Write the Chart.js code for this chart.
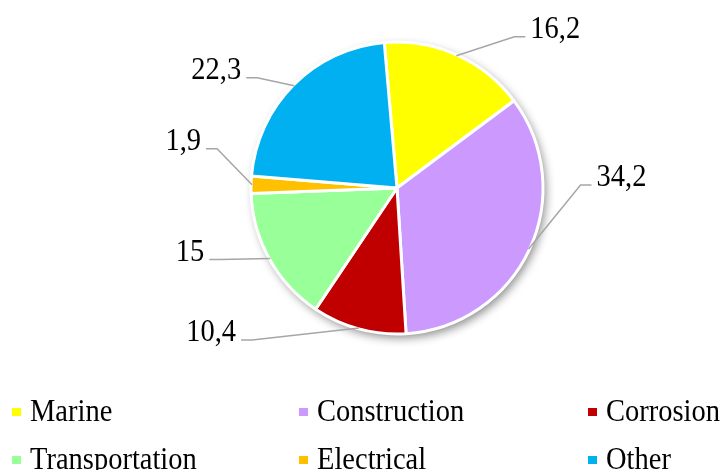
<!DOCTYPE html>
<html><head><meta charset="utf-8">
<script src="https://cdn.jsdelivr.net/npm/chart.js@4/dist/chart.umd.min.js"></script>
<style>
html,body{margin:0;padding:0;background:#fff;width:727px;height:470px;overflow:hidden;}
canvas{display:block;}
</style></head>
<body>
<canvas id="c" width="727" height="470"></canvas>
<script>
// ---- data ----
const categories = ["Marine", "Construction", "Corrosion", "Transportation", "Electrical", "Other"];
const values = [16.2, 34.2, 10.4, 15, 1.9, 22.3];
const valueLabels = ["16,2", "34,2", "10,4", "15", "1,9", "22,3"];

// ---- styling ----
const colors = ["#FFFF00", "#CC99FF", "#C00000", "#99FF99", "#FFC000", "#00B0F0"];
// leader elbow offset from slice mid-edge point (layout only)
const labelOffsets = [[58,-19],[52,-64],[-107,12],[-50,1],[-35,-36],[-37,-8]];
const FONT = '28.5px "Liberation Serif", "Times New Roman", serif';
const STRETCH_Y = 1.1;

function drawText(ctx, text, x, y, align) {
  ctx.save();
  ctx.translate(x, y);
  ctx.scale(1, STRETCH_Y);
  ctx.textAlign = align;
  ctx.textBaseline = 'alphabetic';
  ctx.fillText(text, 0, 0);
  ctx.restore();
}

const shadowPlugin = {
  id: 'shadow',
  beforeDatasetsDraw(chart) {
    const arc = chart.getDatasetMeta(0).data[0];
    if (!arc) return;
    const ctx = chart.ctx;
    ctx.save();
    ctx.shadowColor = 'rgba(0,0,0,0.45)';
    ctx.shadowBlur = 10;
    ctx.shadowOffsetX = 3;
    ctx.shadowOffsetY = 4;
    ctx.fillStyle = '#fff';
    ctx.beginPath();
    ctx.arc(arc.x, arc.y, arc.outerRadius, 0, Math.PI * 2);
    ctx.fill();
    ctx.restore();
  }
};

const labelPlugin = {
  id: 'leaderLabels',
  afterDatasetsDraw(chart) {
    const ctx = chart.ctx;
    const meta = chart.getDatasetMeta(0);
    ctx.save();
    ctx.font = FONT;
    ctx.fillStyle = '#000';
    ctx.strokeStyle = '#A6A6A6';
    ctx.lineWidth = 1.5;
    meta.data.forEach((a, i) => {
      const mid = (a.startAngle + a.endAngle) / 2;
      const r = a.outerRadius - 1;
      const px = a.x + Math.cos(mid) * r;
      const py = a.y + Math.sin(mid) * r;
      const ex = px + labelOffsets[i][0];
      const ey = py + labelOffsets[i][1];
      const dir = labelOffsets[i][0] >= 0 ? 1 : -1;
      const hx = ex + dir * 11;
      ctx.beginPath();
      ctx.moveTo(px, py);
      ctx.lineTo(ex, ey);
      ctx.lineTo(hx, ey);
      ctx.stroke();
      drawText(ctx, valueLabels[i], hx + dir * 5, ey + 1, dir > 0 ? 'left' : 'right');
    });
    ctx.restore();
  }
};

const legendPlugin = {
  id: 'gridLegend',
  afterDraw(chart) {
    const ctx = chart.ctx;
    const colX = [11, 298, 587];
    const rowY = [421, 469];
    ctx.save();
    ctx.font = FONT;
    categories.forEach((name, i) => {
      const x = colX[i % 3];
      const y = rowY[Math.floor(i / 3)];
      ctx.fillStyle = colors[i];
      ctx.fillRect(x + 1, y - 13, 9, 8);
      ctx.fillStyle = '#000';
      drawText(ctx, name, x + 19, y, 'left');
    });
    ctx.restore();
  }
};

new Chart(document.getElementById('c'), {
  type: 'pie',
  data: {
    labels: categories,
    datasets: [{
      data: values,
      backgroundColor: colors,
      borderColor: '#FFFFFF',
      borderWidth: 3
    }]
  },
  options: {
    responsive: false,
    animation: false,
    devicePixelRatio: 1,
    rotation: -5,
    layout: { padding: { left: 249.5, right: 182.5, top: 40.5, bottom: 134.5 } },
    plugins: { legend: { display: false }, tooltip: { enabled: false } }
  },
  plugins: [shadowPlugin, labelPlugin, legendPlugin]
});
</script>
</body></html>
